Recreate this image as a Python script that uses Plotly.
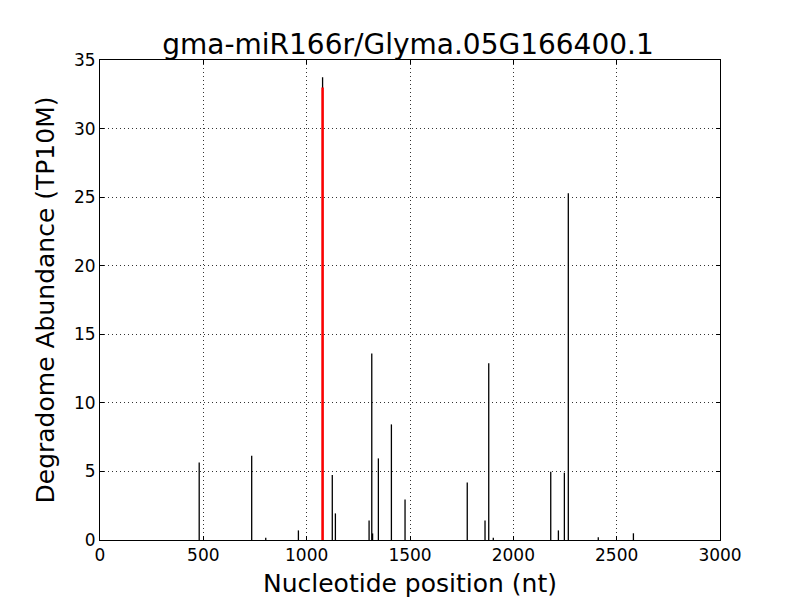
import plotly.graph_objects as go

positions = [480, 734, 802, 960, 1077, 1124, 1139, 1302, 1315, 1319, 1347, 1410, 1476,
             1777, 1863, 1881, 1903, 2181, 2218, 2247, 2266, 2411, 2581]
abundance = [5.65, 6.15, 0.17, 0.7, 33.74, 4.74, 1.94, 1.43, 13.6, 0.48, 5.95, 8.43, 2.96,
             4.2, 1.43, 12.88, 0.17, 4.98, 0.7, 4.91, 25.28, 0.2, 0.49]
target_pos = [1077]
target_val = [33.0]

title = "gma-miR166r/Glyma.05G166400.1"
xlabel = "Nucleotide position (nt)"
ylabel = "Degradome Abundance (TP10M)"

def stems(xs, ys):
    X, Y = [], []
    for x, y in zip(xs, ys):
        X += [x, x, None]
        Y += [0, y, None]
    return X, Y

fig = go.Figure()
bx, by = stems(positions, abundance)
fig.add_trace(go.Scatter(x=bx, y=by, mode="lines", line=dict(color="black", width=1.3),
                         hoverinfo="skip", showlegend=False))
rx, ry = stems(target_pos, target_val)
fig.add_trace(go.Scatter(x=rx, y=ry, mode="lines", line=dict(color="red", width=2.5),
                         hoverinfo="skip", showlegend=False))

font = "DejaVu Sans"
axis_common = dict(showline=True, linecolor="black", linewidth=1, mirror="allticks",
                   ticks="inside", ticklen=4, tickcolor="black",
                   showgrid=True, gridcolor="#333333", griddash="1px,3px", gridwidth=1,
                   zeroline=False, tickfont=dict(family=font, size=17, color="black"))

fig.update_layout(
    width=800, height=600,
    margin=dict(l=92, r=88, t=52, b=68),
    paper_bgcolor="white", plot_bgcolor="white",
    title=dict(text=title, x=0.5, xanchor="center", y=0.94, yanchor="middle",
               font=dict(family=font, size=28, color="black")),
    xaxis=dict(range=[0, 3000], tickvals=[0, 500, 1000, 1500, 2000, 2500, 3000],
               title=dict(text=xlabel, font=dict(family=font, size=25, color="black"), standoff=10),
               **axis_common),
    yaxis=dict(range=[0, 35], tickvals=[0, 5, 10, 15, 20, 25, 30, 35],
               title=dict(text=ylabel, font=dict(family=font, size=25, color="black"), standoff=12),
               **axis_common),
)

fig.write_html("out.html")
